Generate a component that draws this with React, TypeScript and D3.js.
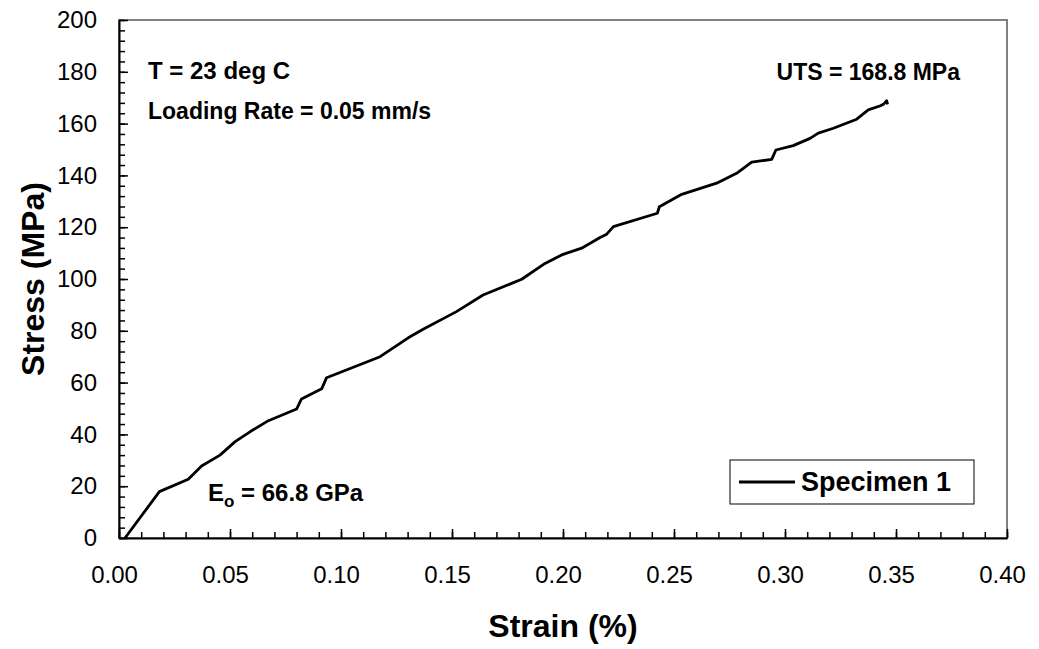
import React, { useEffect, useRef } from 'react';
import * as d3 from 'd3';

// strain (%) vs stress (MPa)
const strain = [
  0.0027, 0.0182, 0.0312, 0.0372, 0.0455, 0.0523, 0.059, 0.0673, 0.08, 0.0822, 0.0913, 0.0935, 0.1176, 0.1303,
  0.137, 0.152, 0.164, 0.1814, 0.1919, 0.1994, 0.2084, 0.2167, 0.2197, 0.2227, 0.2425, 0.2434, 0.2535, 0.2692,
  0.2782, 0.285, 0.294, 0.2959, 0.3037, 0.3113, 0.315, 0.3218, 0.3323, 0.3375, 0.343, 0.3445, 0.3458, 0.3462,
];
const stress = [
  0, 17.9, 22.7, 27.8, 32, 37.2, 41, 45.3, 49.8, 53.7, 57.6, 61.9, 70, 77.3, 80.6, 87.4, 93.8, 99.9, 106, 109.3,
  111.9, 116, 117.3, 120.2, 125.4, 127.9, 132.7, 137, 140.8, 145.1, 146.2, 149.8, 151.5, 154.3, 156.3, 158.2,
  161.7, 165.3, 166.9, 167.6, 168.8, 167.4,
];
const xTicks = [0, 0.05, 0.1, 0.15, 0.2, 0.25, 0.3, 0.35, 0.4];
const yTicks = [0, 20, 40, 60, 80, 100, 120, 140, 160, 180, 200];
const seriesName = 'Specimen 1';

const W = 1039;
const H = 649;
const font = '"Liberation Sans", Arial, sans-serif';

function StressStrain() {
  const ref = useRef<any>(null);
  useEffect(() => {
    const svg = d3.select(ref.current).attr('width', W).attr('height', H);
    svg.selectAll('*').remove();

    const x = d3.scaleLinear().domain([0, 0.4]).range([119, 1007]);
    const y = d3.scaleLinear().domain([0, 200]).range([538, 20]);

    // plot frame (grey top/right)
    svg
      .append('rect')
      .attr('x', x(0))
      .attr('y', y(200))
      .attr('width', x(0.4) - x(0))
      .attr('height', y(0) - y(200))
      .attr('fill', 'none')
      .attr('stroke', '#808080')
      .attr('stroke-width', 2);

    // minor ticks
    svg
      .append('g')
      .attr('transform', `translate(0,${y(0)})`)
      .call(d3.axisBottom(x).tickValues(d3.range(0, 0.4001, 0.01)).tickSize(-6).tickSizeOuter(0).tickFormat(() => ''))
      .call((g: any) => g.select('.domain').remove())
      .selectAll('line')
      .attr('stroke', '#000')
      .attr('stroke-width', 1.5);
    svg
      .append('g')
      .attr('transform', `translate(${x(0)},0)`)
      .call(d3.axisLeft(y).tickValues(d3.range(0, 200.1, 4)).tickSize(-6).tickSizeOuter(0).tickFormat(() => ''))
      .call((g: any) => g.select('.domain').remove())
      .selectAll('line')
      .attr('stroke', '#000')
      .attr('stroke-width', 1.5);

    // major ticks + labels
    const xa = svg
      .append('g')
      .attr('transform', `translate(0,${y(0)})`)
      .call(d3.axisBottom(x).tickValues(xTicks).tickSize(-9).tickSizeOuter(0).tickPadding(28).tickFormat(d3.format('.2f')));
    xa.selectAll('text').attr('dx', -5);
    const ya = svg
      .append('g')
      .attr('transform', `translate(${x(0)},0)`)
      .call(d3.axisLeft(y).tickValues(yTicks).tickSize(-9).tickSizeOuter(0).tickPadding(22).tickFormat(d3.format('d')));
    [xa, ya].forEach((g: any) => {
      g.select('.domain').attr('stroke', '#000').attr('stroke-width', 2);
      g.selectAll('line').attr('stroke', '#000').attr('stroke-width', 1.5);
      g.selectAll('text').attr('font-family', font).attr('font-size', 24).attr('fill', '#000');
    });

    // curve
    const pts = strain.map((s, i) => [s, stress[i]] as [number, number]);
    const line: any = d3
      .line()
      .x((d: any) => x(d[0]))
      .y((d: any) => y(d[1]));
    svg
      .append('path')
      .datum(pts)
      .attr('d', line)
      .attr('fill', 'none')
      .attr('stroke', '#000')
      .attr('stroke-width', 2.8)
      .attr('stroke-linejoin', 'round');

    // axis titles
    svg
      .append('text')
      .attr('x', (x(0) + x(0.4)) / 2)
      .attr('y', 637)
      .attr('text-anchor', 'middle')
      .attr('font-family', font)
      .attr('font-weight', 'bold')
      .attr('font-size', 32)
      .text('Strain (%)');
    svg
      .append('text')
      .attr('transform', `translate(44,${(y(0) + y(200)) / 2}) rotate(-90)`)
      .attr('text-anchor', 'middle')
      .attr('font-family', font)
      .attr('font-weight', 'bold')
      .attr('font-size', 32)
      .text('Stress (MPa)');

    // annotations
    const note = (tx: number, ty: number, s: string, size: number, anchor = 'start') =>
      svg
        .append('text')
        .attr('x', tx)
        .attr('y', ty)
        .attr('text-anchor', anchor)
        .attr('font-family', font)
        .attr('font-weight', 'bold')
        .attr('font-size', size)
        .text(s);
    note(148, 79, 'T = 23 deg C', 24);
    note(148, 119, 'Loading Rate = 0.05 mm/s', 23);
    note(960, 80, 'UTS = 168.8 MPa', 23, 'end');
    const eo = note(208, 501, 'E', 24);
    eo.append('tspan').attr('font-size', 17).attr('dy', 6).text('o');
    eo.append('tspan').attr('dy', -6).text(' = 66.8 GPa');

    // legend
    const lg = svg.append('g');
    lg.append('rect')
      .attr('x', 730)
      .attr('y', 460)
      .attr('width', 244)
      .attr('height', 44)
      .attr('fill', '#fff')
      .attr('stroke', '#000')
      .attr('stroke-width', 1);
    lg.append('line').attr('x1', 739).attr('x2', 795).attr('y1', 482).attr('y2', 482).attr('stroke', '#000').attr('stroke-width', 2.8);
    lg.append('text')
      .attr('x', 801)
      .attr('y', 491)
      .attr('font-family', font)
      .attr('font-weight', 'bold')
      .attr('font-size', 27)
      .text(seriesName);
  });

  return <svg ref={ref} style={{ display: 'block' }}></svg>;
}

export default function App() {
  return (
    <div style={{ position: 'absolute', left: 0, top: 0, background: '#fff' }}>
      <StressStrain />
    </div>
  );
}
